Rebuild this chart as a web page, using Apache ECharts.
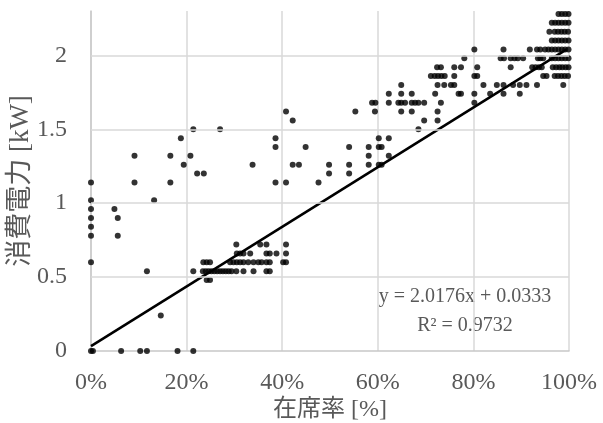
<!DOCTYPE html>
<html>
<head>
<meta charset="utf-8">
<script src="https://cdn.jsdelivr.net/npm/echarts@6/dist/echarts.min.js"></script>
<style>
  html, body { margin: 0; padding: 0; background: #fff; }
  #chart { width: 603px; height: 423px; }
</style>
</head>
<body>
<div id="chart"></div>
<script>
// power levels (kW) and the occupancy values (%) read at each level
const powerLevels = [0, 0.24, 0.48, 0.54, 0.60, 0.66, 0.72, 0.78, 0.84, 0.90, 0.96, 1.02, 1.14, 1.20, 1.26, 1.32, 1.38, 1.44, 1.50, 1.56, 1.62, 1.68, 1.74, 1.80, 1.86, 1.92, 1.98, 2.04, 2.10, 2.16, 2.22, 2.28];
const occupancyAtLevel = [
    [0, 0.4, 6.3, 10.3, 11.7, 18.1, 21.4],
    [14.6],
    [24.2, 24.9],
    [11.7, 21.4, 23.4, 24.0, 24.6, 25.2, 25.8, 26.4, 27.0, 27.6, 28.2, 28.8, 29.4, 30.4, 31.9, 34.0, 36.7, 37.4],
    [0, 23.5, 24.2, 24.9, 29.1, 29.8, 30.5, 31.2, 31.9, 32.9, 34.0, 35.0, 35.7, 36.7, 37.4, 40.2, 40.8],
    [30.5, 31.2, 31.9, 33.3, 36.7, 37.4, 38.8, 40.8],
    [30.4, 35.4, 36.7, 40.8],
    [0, 5.6],
    [0],
    [0, 5.6],
    [0, 4.9],
    [0, 13.2],
    [0, 9.1, 16.6, 38.6, 40.8, 47.6],
    [22.2, 23.6, 49.8, 54.0],
    [19.4, 33.8, 42.2, 43.5, 49.8, 54.0, 58.1, 60.2, 60.8],
    [9.1, 16.6, 20.8, 58.1, 62.3],
    [38.6, 44.9, 54.0, 58.1, 60.2, 60.8],
    [18.8, 38.6, 60.2, 62.3],
    [21.4, 27.0, 68.5],
    [42.2, 69.7, 72.5],
    [40.8, 55.3, 59.4, 64.9, 67.1, 72.5],
    [58.8, 59.5, 62.3, 64.3, 64.9, 65.7, 67.1, 67.8, 68.5, 69.7, 73.2, 80.2],
    [62.3, 64.9, 67.1, 72.0, 76.9, 77.4, 80.2, 83.5, 86.3, 89.7],
    [64.9, 72.5, 73.9, 75.3, 76.0, 82.1, 84.9, 86.3, 88.3, 89.7, 91.1, 93.3, 98.8],
    [71.1, 71.9, 72.6, 73.3, 74.0, 76.0, 80.2, 80.8, 94.6, 95.3, 97.0, 97.7, 98.4, 99.1, 99.8],
    [72.4, 73.2, 76.0, 77.4, 80.8, 87.8, 92.3, 93.0, 93.7, 94.3, 96.6, 97.3, 98.0, 98.6, 99.3, 99.9],
    [78.1, 85.7, 86.4, 87.8, 88.6, 89.3, 90.4, 93.5, 94.0, 94.6, 96.4, 97.1, 97.8, 98.5, 99.2, 99.9],
    [80.2, 86.3, 91.8, 93.3, 94.0, 95.0, 95.7, 96.4, 97.1, 97.8, 98.5, 99.2, 99.9],
    [96.4, 97.1, 97.8, 98.5, 99.2, 99.9],
    [95.9, 97.0, 97.7, 98.4, 99.1, 99.8],
    [96.4, 97.1, 97.8, 98.5, 99.2, 99.9],
    [97.8, 98.5, 99.2, 99.9]
];

// linear trendline from the chart
const slope = 2.0176;
const intercept = 0.0333;
const trendRange = [0, 99.5];

const xTicks = [0, 20, 40, 60, 80, 100];
const yTicks = [0, 0.5, 1, 1.5, 2];

const points = [];
powerLevels.forEach((p, i) => {
    occupancyAtLevel[i].forEach(x => points.push([x, p]));
});
const trendData = trendRange.map(x => [x, slope * x / 100 + intercept]);

const font = "'Liberation Serif', 'Noto Sans CJK JP', serif";
const textColor = '#595959';

const chart = echarts.init(document.getElementById('chart'));
chart.setOption({
    animation: false,
    grid: { left: 91, right: 34, top: 11, bottom: 72, outerBoundsMode: 'none', containLabel: false },
    xAxis: {
        type: 'value',
        min: xTicks[0],
        max: xTicks[xTicks.length - 1],
        interval: 20,
        name: '在席率 [%]',
        nameLocation: 'middle',
        nameGap: 47,
        nameMoveOverlap: false,
        nameTextStyle: { fontFamily: font, fontSize: 24, color: textColor },
        axisLine: { show: true, lineStyle: { color: '#c8c8c8', width: 1.5 } },
        axisTick: { show: false },
        axisLabel: { fontFamily: font, fontSize: 24, color: textColor, margin: 20, formatter: '{value}%' },
        splitLine: { show: true, lineStyle: { color: '#d9d9d9', width: 1.5 } }
    },
    yAxis: {
        type: 'value',
        min: 0,
        max: 2.3,
        interval: 0.5,
        name: '消費電力 [kW]',
        nameLocation: 'middle',
        nameGap: 57,
        nameMoveOverlap: false,
        nameTextStyle: { fontFamily: font, fontSize: 27, color: textColor },
        axisLine: { show: true, lineStyle: { color: '#c8c8c8', width: 1.5 } },
        axisTick: { show: false },
        axisLabel: { fontFamily: font, fontSize: 24, color: textColor, margin: 24, showMaxLabel: false },
        splitLine: { show: false }
    },
    series: [
        {
            type: 'line',
            data: [],
            silent: true,
            markLine: {
                silent: true,
                symbol: 'none',
                label: { show: false },
                lineStyle: { color: '#d9d9d9', width: 1.5, type: 'solid' },
                data: yTicks.slice(1).map(v => ({ yAxis: v }))
            }
        },
        {
            type: 'scatter',
            data: points,
            symbolSize: 6,
            itemStyle: { color: '#000' },
            z: 3
        },
        {
            type: 'line',
            data: trendData,
            showSymbol: false,
            lineStyle: { color: '#000', width: 2.5 },
            z: 4
        }
    ],
    graphic: [
        {
            type: 'text',
            x: 465,
            y: 297,
            style: { text: 'y = 2.0176x + 0.0333', fontFamily: font, fontSize: 20, fill: textColor, align: 'center', verticalAlign: 'middle' }
        },
        {
            type: 'text',
            x: 465,
            y: 326,
            style: { text: 'R² = 0.9732', fontFamily: font, fontSize: 20, fill: textColor, align: 'center', verticalAlign: 'middle' }
        }
    ]
});
</script>
</body>
</html>
